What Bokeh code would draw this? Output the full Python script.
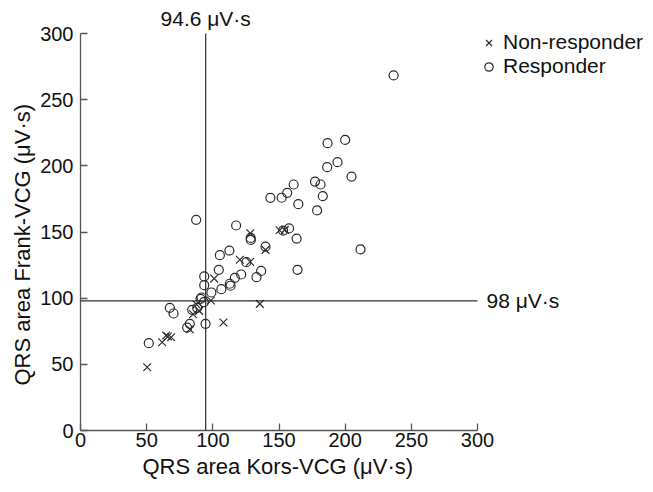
from bokeh.plotting import figure
from bokeh.models import Label, Legend, LegendItem, Range1d, FixedTicker, Title
from bokeh.embed import file_html
from bokeh.resources import INLINE

# Non-responders (x markers)
non_x = [50.4, 61.7, 64.7, 66.0, 68.5, 82.6, 85.1, 87.7, 89.6, 98.5, 101.0, 108.0,
         120.4, 128.2, 128.3, 135.5, 139.8, 150.4, 154.4]
non_y = [47.8, 66.7, 71.8, 71.0, 70.5, 76.5, 87.8, 95.2, 90.4, 98.2, 114.8, 81.6,
         129.0, 127.5, 149.0, 95.7, 136.5, 151.3, 151.6]

# Responders (circles)
res_x = [51.6, 67.5, 70.3, 80.6, 82.6, 84.4, 88.2, 90.7, 91.5, 93.2, 94.5, 87.4,
         93.5, 93.5, 98.9, 104.5, 105.3, 106.4, 112.8, 113.4, 112.5, 116.6, 117.6,
         121.4, 125.3, 128.6, 128.7, 133.0, 136.5, 139.8, 143.5, 152.0, 153.1,
         156.2, 157.6, 161.1, 163.3, 164.0, 164.6, 177.2, 178.8, 181.4, 183.1,
         186.4, 186.7, 194.2, 200.0, 204.8, 211.6, 236.6]
res_y = [66.0, 92.7, 88.4, 77.8, 80.6, 91.2, 92.7, 99.5, 100.5, 97.0, 80.6, 159.2,
         109.8, 116.4, 104.3, 121.4, 132.5, 106.8, 110.9, 109.4, 136.0, 115.4, 154.9,
         117.9, 127.2, 145.5, 144.0, 115.9, 120.6, 139.0, 175.8, 175.9, 151.1,
         179.6, 152.7, 185.9, 145.0, 121.4, 171.0, 188.1, 166.3, 185.9, 177.1,
         199.0, 217.1, 202.8, 219.6, 191.9, 136.8, 268.3]

ticks = [0, 50, 100, 150, 200, 250, 300]
x_cut = 94.6
y_cut = 98.0
x_cut_label = "94.6 \u03bcV\u00b7s"
y_cut_label = "98 \u03bcV\u00b7s"
x_title = "QRS area Kors-VCG (\u03bcV\u00b7s)"
y_title = "QRS area Frank-VCG (\u03bcV\u00b7s)"

FONT = "Liberation Sans"
INK = "#2b2b2b"
TXT = "#111111"

# layout: the 300-unit axes span 397 px; the frame is larger so that the
# annotation texts and the legend outside the axes are not clipped
AX_PX = 397
LEFT = 80
W, H = 652, 491
FRAME_W = W - LEFT
FRAME_H = 430
lo, hi = ticks[0], ticks[-1]
x_end = hi * FRAME_W / AX_PX
y_end = hi * FRAME_H / AX_PX

p = figure(width=W, height=H,
           x_range=Range1d(lo, x_end), y_range=Range1d(lo, y_end),
           min_border_left=LEFT, min_border_top=0, min_border_bottom=H - FRAME_H,
           min_border_right=0,
           output_backend="svg", toolbar_location=None)
p.outline_line_color = None
p.grid.visible = False
p.background_fill_color = "white"
p.border_fill_color = "white"

for ax in (p.xaxis[0], p.yaxis[0]):
    ax.ticker = FixedTicker(ticks=ticks)
    ax.bounds = (lo, hi)
    ax.major_tick_in = 7
    ax.major_tick_out = 0
    ax.minor_tick_line_color = None
    ax.axis_line_color = "#555555"
    ax.axis_line_width = 1.3
    ax.major_tick_line_color = "#555555"
    ax.major_tick_line_width = 1.3
    ax.major_label_text_font = FONT
    ax.major_label_text_font_size = "20px"
    ax.major_label_text_color = TXT

p.xaxis.major_label_standoff = 2
p.yaxis.major_label_standoff = 7

# axis titles, placed along the 0-300 axis span rather than the whole frame
xt = Title(text=x_title, align="left", offset=62, standoff=4,
           text_font=FONT, text_font_size="22px", text_font_style="normal",
           text_color=TXT)
yt = Title(text=y_title, align="left", offset=45, standoff=6,
           text_font=FONT, text_font_size="22px", text_font_style="normal",
           text_color=TXT)
p.add_layout(xt, "below")
p.add_layout(yt, "left")

# cut-off reference lines
p.segment(x0=[x_cut], y0=[lo], x1=[x_cut], y1=[hi], line_color=INK, line_width=1.2)
p.segment(x0=[lo], y0=[y_cut], x1=[hi], y1=[y_cut], line_color=INK, line_width=1.2)

p.add_layout(Label(x=x_cut, y=hi, y_offset=15, text=x_cut_label, text_align="center",
                   text_baseline="middle", text_font=FONT, text_font_size="21px",
                   text_color=TXT))
p.add_layout(Label(x=hi, y=y_cut, x_offset=9, text=y_cut_label, text_align="left",
                   text_baseline="middle", text_font=FONT, text_font_size="21px",
                   text_color=TXT))

r_non = p.scatter(non_x, non_y, marker="x", size=11, line_color=INK, line_width=1.2)
r_res = p.scatter(res_x, res_y, marker="circle", size=9, fill_color=None,
                  line_color=INK, line_width=1.2)

legend = Legend(items=[LegendItem(label="Non-responder", renderers=[r_non]),
                       LegendItem(label="Responder", renderers=[r_res])],
                location=(398, 352), orientation="vertical")
legend.label_text_font = FONT
legend.label_text_font_size = "21px"
legend.label_text_color = TXT
legend.glyph_width = 21
legend.glyph_height = 21
legend.label_height = 21
legend.label_standoff = 4
legend.spacing = 0
legend.padding = 2
legend.margin = 0
legend.border_line_color = None
legend.background_fill_alpha = 0
p.add_layout(legend)

open("out.html", "w").write(file_html(p, INLINE))
